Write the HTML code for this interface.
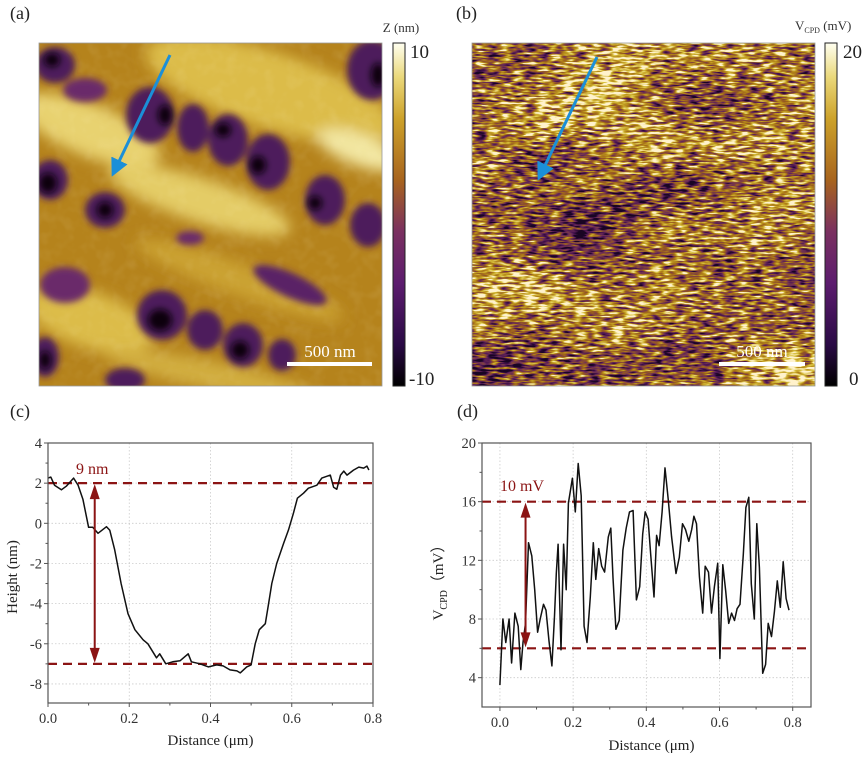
<!DOCTYPE html>
<html><head><meta charset="utf-8">
<style>
html,body{margin:0;padding:0;background:#fff;}
body{width:865px;height:766px;position:relative;overflow:hidden;font-family:"Liberation Serif",serif;}
svg{position:absolute;left:0;top:0;}
</style></head>
<body>
<svg width="865" height="766" xmlns="http://www.w3.org/2000/svg">
<defs>
  <linearGradient id="cmap" x1="0" y1="1" x2="0" y2="0">
    <stop offset="0" stop-color="#000000"/>
    <stop offset="0.12" stop-color="#2a0a45"/>
    <stop offset="0.3" stop-color="#5c1c6e"/>
    <stop offset="0.45" stop-color="#7a3060"/>
    <stop offset="0.6" stop-color="#a8641e"/>
    <stop offset="0.78" stop-color="#cda22a"/>
    <stop offset="0.9" stop-color="#ead87a"/>
    <stop offset="1" stop-color="#fffff0"/>
  </linearGradient>
  <filter id="blur6" x="-20%" y="-20%" width="140%" height="140%"><feGaussianBlur stdDeviation="7"/></filter>
  <filter id="blur3" x="-20%" y="-20%" width="140%" height="140%"><feGaussianBlur stdDeviation="3.5"/></filter>
  <filter id="kpfm" x="0" y="0" width="100%" height="100%" color-interpolation-filters="sRGB">
    <feTurbulence type="fractalNoise" baseFrequency="0.08 0.4" numOctaves="2" seed="3" result="t1"/>
    <feColorMatrix in="t1" type="matrix" values="1 0 0 0 0  1 0 0 0 0  1 0 0 0 0  0 0 0 0 1" result="n1"/>
    <feTurbulence type="fractalNoise" baseFrequency="0.006 0.012" numOctaves="2" seed="11" result="t2"/>
    <feColorMatrix in="t2" type="matrix" values="1 0 0 0 0  1 0 0 0 0  1 0 0 0 0  0 0 0 0 1" result="n2"/>
    <feComposite in="n1" in2="n2" operator="arithmetic" k2="1" k3="0.55" k4="-0.28" result="n"/>
    <feComponentTransfer in="n" result="s">
      <feFuncR type="linear" slope="2.0" intercept="-0.45"/>
      <feFuncG type="linear" slope="2.0" intercept="-0.45"/>
      <feFuncB type="linear" slope="2.0" intercept="-0.45"/>
      <feFuncA type="linear" slope="0" intercept="1"/>
    </feComponentTransfer>
    <feComponentTransfer in="s">
      <feFuncR type="table" tableValues="0.1 0.3 0.45 0.6 0.72 0.85 1"/>
      <feFuncG type="table" tableValues="0.02 0.08 0.2 0.36 0.55 0.76 0.95"/>
      <feFuncB type="table" tableValues="0.14 0.33 0.33 0.12 0.1 0.25 0.8"/>
      <feFuncA type="linear" slope="0" intercept="1"/>
    </feComponentTransfer>
  </filter>
  <filter id="grain" x="0" y="0" width="100%" height="100%">
    <feTurbulence type="fractalNoise" baseFrequency="0.08" numOctaves="2" seed="5" result="t"/>
    <feColorMatrix in="t" type="matrix" values="0 0 0 0 1  0 0 0 0 0.95  0 0 0 0 0.7  0.8 0 0 0 -0.35"/>
  </filter>
  <clipPath id="clipA"><rect x="39" y="43" width="343" height="343"/></clipPath>
  <marker id="blueHead" markerWidth="6" markerHeight="6" refX="5" refY="3" orient="auto" markerUnits="strokeWidth"><path d="M0,0 L6,3 L0,6 Z" fill="#1b8fd8"/></marker>
</defs>

<g>
  <g clip-path="url(#clipA)">
    <rect x="39" y="43" width="343" height="343" fill="#b5831c"/>
    <g filter="url(#blur6)" fill="#dcbc48">
      <ellipse cx="270" cy="90" rx="130" ry="38" transform="rotate(18 270 90)"/>
      <ellipse cx="360" cy="150" rx="45" ry="16" transform="rotate(20 360 150)" fill="#f2e6a0"/>
      <ellipse cx="90" cy="130" rx="75" ry="26" transform="rotate(22 90 130)" fill="#e8d270"/>
      <ellipse cx="200" cy="200" rx="95" ry="22" transform="rotate(18 200 200)" fill="#e4cc66"/>
      <ellipse cx="90" cy="320" rx="65" ry="28" transform="rotate(18 90 320)"/>
      <ellipse cx="240" cy="280" rx="110" ry="16" transform="rotate(20 240 280)" fill="#cba232"/>
      <ellipse cx="210" cy="375" rx="110" ry="14" transform="rotate(12 210 375)" fill="#d2ae40"/>
    </g>
    <rect x="39" y="43" width="343" height="343" filter="url(#grain)" opacity="0.25"/>
    <g filter="url(#blur3)" fill="#4d1a5c">
      <ellipse cx="55" cy="65" rx="20" ry="18"/>
      <ellipse cx="85" cy="90" rx="22" ry="12" fill="#6a2c6a"/>
      <ellipse cx="372" cy="70" rx="25" ry="30"/>
      <ellipse cx="150" cy="115" rx="24" ry="28"/>
      <ellipse cx="193" cy="128" rx="16" ry="24"/>
      <ellipse cx="228" cy="140" rx="20" ry="26"/>
      <ellipse cx="268" cy="162" rx="22" ry="28"/>
      <ellipse cx="325" cy="200" rx="20" ry="25"/>
      <ellipse cx="368" cy="225" rx="18" ry="22"/>
      <ellipse cx="50" cy="180" rx="18" ry="20"/>
      <ellipse cx="105" cy="210" rx="20" ry="18"/>
      <ellipse cx="190" cy="238" rx="14" ry="7" fill="#6a2c6a"/>
      <ellipse cx="290" cy="285" rx="40" ry="12" transform="rotate(25 290 285)" fill="#5a2266"/>
      <ellipse cx="65" cy="285" rx="25" ry="18" fill="#6a2c6a"/>
      <ellipse cx="162" cy="315" rx="25" ry="25"/>
      <ellipse cx="205" cy="330" rx="18" ry="20"/>
      <ellipse cx="243" cy="345" rx="20" ry="22"/>
      <ellipse cx="282" cy="355" rx="14" ry="16"/>
      <ellipse cx="45" cy="357" rx="14" ry="20"/>
      <ellipse cx="125" cy="380" rx="20" ry="12"/>
    </g>
    <g filter="url(#blur3)" fill="#0a0410">
      <ellipse cx="52" cy="60" rx="8" ry="7"/>
      <ellipse cx="378" cy="75" rx="7" ry="12"/>
      <ellipse cx="165" cy="115" rx="7" ry="10"/>
      <ellipse cx="223" cy="130" rx="8" ry="7"/>
      <ellipse cx="258" cy="165" rx="8" ry="9"/>
      <ellipse cx="315" cy="203" rx="7" ry="7"/>
      <ellipse cx="48" cy="183" rx="9" ry="10"/>
      <ellipse cx="105" cy="210" rx="8" ry="8"/>
      <ellipse cx="160" cy="320" rx="12" ry="11"/>
      <ellipse cx="240" cy="350" rx="9" ry="9"/>
      <ellipse cx="45" cy="360" rx="6" ry="9"/>
    </g>
  </g>
  <rect x="39" y="43" width="343" height="343" fill="none" stroke="#999" stroke-width="0.8"/>
  <line x1="170" y1="55" x2="113" y2="174" stroke="#1b8fd8" stroke-width="3" marker-end="url(#blueHead)"/>
  <line x1="287" y1="364" x2="372" y2="364" stroke="#fff" stroke-width="4"/>
  <text x="330" y="357" font-size="17" fill="#fff" text-anchor="middle">500 nm</text>
  <rect x="393" y="43" width="12" height="343" fill="url(#cmap)" stroke="#222" stroke-width="1"/>
  <text x="401" y="32" font-size="13" fill="#333" text-anchor="middle">Z (nm)</text>
  <text x="410" y="58" font-size="19" fill="#222">10</text>
  <text x="409" y="385" font-size="19" fill="#222">-10</text>
  <text x="10" y="19" font-size="18" fill="#222">(a)</text>
</g>

<g>
  <rect x="472" y="43" width="343" height="343" fill="#a06a1e" filter="url(#kpfm)"/>
  <rect x="472" y="43" width="343" height="343" fill="none" stroke="#999" stroke-width="0.8"/>
  <line x1="597" y1="57" x2="539" y2="178" stroke="#1b8fd8" stroke-width="3" marker-end="url(#blueHead)"/>
  <line x1="719" y1="364" x2="805" y2="364" stroke="#fff" stroke-width="4"/>
  <text x="762" y="357" font-size="17" fill="#fff" text-anchor="middle">500 nm</text>
  <rect x="825" y="43" width="12" height="343" fill="url(#cmap)" stroke="#222" stroke-width="1"/>
  <text x="795" y="30" font-size="13" fill="#333">V<tspan font-size="8" dy="3">CPD</tspan><tspan dy="-3"> (mV)</tspan></text>
  <text x="843" y="58" font-size="19" fill="#222">20</text>
  <text x="849" y="385" font-size="19" fill="#222">0</text>
  <text x="456" y="19" font-size="18" fill="#222">(b)</text>
</g>

<text x="10" y="417" font-size="18" fill="#222">(c)</text>
<text x="457" y="417" font-size="18" fill="#222">(d)</text>
<g id="chartC"></g>
<g id="chartD"></g>
</svg>

<script>
// ---- Chart (c) data ----
const cDist = [0,0.007,0.016,0.033,0.045,0.063,0.074,0.086,0.10,0.11,0.123,0.144,0.152,0.164,0.18,0.197,0.214,0.234,0.246,0.267,0.275,0.29,0.307,0.325,0.345,0.353,0.374,0.395,0.415,0.431,0.448,0.465,0.473,0.489,0.50,0.51,0.52,0.535,0.543,0.551,0.563,0.58,0.592,0.604,0.614,0.629,0.641,0.662,0.674,0.695,0.703,0.711,0.72,0.728,0.736,0.752,0.765,0.777,0.785,0.79];
const cHeight = [2.25,2.3,1.9,1.67,1.85,2.25,1.9,1.2,-0.2,-0.2,-0.5,-0.17,-0.35,-1.3,-3,-4.5,-5.3,-5.8,-6.0,-6.7,-6.5,-7,-6.9,-6.85,-6.5,-6.9,-7,-7.15,-7.05,-7.1,-7.3,-7.35,-7.45,-7.15,-7.05,-6,-5.3,-5,-4,-3,-2,-1,-0.33,0.5,1.25,1.5,1.75,1.9,2.25,2.4,1.8,1.7,2.4,2.6,2.4,2.65,2.8,2.75,2.85,2.65];
const cXTicks = [0,0.2,0.4,0.6,0.8];
const cXTickLabels = ["0.0","0.2","0.4","0.6","0.8"];
const cYTicks = [-8,-6,-4,-2,0,2,4];
const cYTickLabels = ["-8","-6","-4","-2","0","2","4"];
const cRefLines = [2,-7];
const cArrowX = [0.115];
const cAnnot = ["9 nm"];

// ---- Chart (d) data ----
const dDist = [0,0.008,0.016,0.025,0.032,0.041,0.050,0.057,0.063,0.070,0.078,0.087,0.095,0.103,0.110,0.119,0.126,0.134,0.142,0.149,0.154,0.159,0.167,0.174,0.181,0.187,0.198,0.206,0.214,0.222,0.230,0.238,0.247,0.255,0.262,0.270,0.278,0.286,0.296,0.303,0.309,0.317,0.326,0.336,0.345,0.354,0.364,0.373,0.382,0.390,0.397,0.405,0.412,0.421,0.428,0.435,0.443,0.451,0.460,0.469,0.481,0.490,0.499,0.507,0.516,0.524,0.530,0.537,0.545,0.554,0.561,0.570,0.578,0.586,0.595,0.601,0.609,0.617,0.625,0.633,0.641,0.648,0.656,0.665,0.672,0.680,0.687,0.695,0.702,0.709,0.718,0.726,0.733,0.742,0.750,0.758,0.766,0.774,0.782,0.790];
const dVcpd = [3.5,8.0,6.4,8.0,5.0,8.4,7.5,4.55,6.4,7.7,13.2,12.3,10.0,7.1,8.0,9.0,8.6,6.5,4.8,8.2,11.1,13.1,5.9,13.1,10.0,15.9,17.6,15.3,18.6,16.4,7.5,6.4,9.5,13.2,10.7,12.8,11.6,11.2,13.6,14.2,10.8,7.3,7.9,12.7,14.2,15.3,15.4,9.3,10.2,13.8,15.3,14.8,12.4,9.5,13.7,13.0,15.3,18.3,16.1,13.6,11.1,12.2,14.5,14.1,13.3,14.1,15.0,14.5,10.9,8.4,11.6,11.2,8.4,10.2,11.8,5.3,11.7,9.9,7.7,8.4,7.9,8.7,9.0,12.4,15.6,16.3,10.4,8.0,14.5,11.5,4.3,4.9,7.7,6.8,8.5,10.6,8.8,11.9,9.4,8.6];
const dXTicks = [0,0.2,0.4,0.6,0.8];
const dXTickLabels = ["0.0","0.2","0.4","0.6","0.8"];
const dYTicks = [4,8,12,16,20];
const dYTickLabels = ["4","8","12","16","20"];
const dRefLines = [16,6];
const dArrowX = [0.07];
const dAnnot = ["10 mV"];

const NS = "http://www.w3.org/2000/svg";
function mk(parent, tag, attrs, text){
  const e = document.createElementNS(NS, tag);
  for (const k in attrs) e.setAttribute(k, attrs[k]);
  if (text !== undefined) e.textContent = text;
  parent.appendChild(e);
  return e;
}

function drawChart(g, cfg){
  const L=cfg.left, R=cfg.right, T=cfg.top, B=cfg.bottom;
  const sx = v => L + (v - cfg.xmin)/(cfg.xmax - cfg.xmin)*(R-L);
  const sy = v => B - (v - cfg.ymin)/(cfg.ymax - cfg.ymin)*(B-T);
  const red = "#8b1414";
  cfg.xTicks.forEach(v=>{
    const l = mk(g,'line',{x1:sx(v),x2:sx(v),y1:T,y2:B,stroke:'#ccc','stroke-width':0.8,'stroke-dasharray':'1.5 2'});
    
    
  });
  cfg.yTicks.forEach(v=>{
    const l = mk(g,'line',{x1:L,x2:R,y1:sy(v),y2:sy(v),stroke:'#ccc','stroke-width':0.8,'stroke-dasharray':'1.5 2'});
    
    
  });
  cfg.refLines.forEach(v=>{
    const l = mk(g,'line',{x1:L,x2:R,y1:sy(v),y2:sy(v),stroke:red,'stroke-width':2.2,'stroke-dasharray':'9 6'});
    
    
  });
  let d='';
  cfg.xs.forEach((x,i)=>{ d += (i?'L':'M') + sx(x).toFixed(1)+','+sy(cfg.ys[i]).toFixed(1); });
  const p = mk(g,'path',{d:d,fill:'none',stroke:'#111','stroke-width':1.5,'stroke-linejoin':'round'});
  
  
  const ax = sx(cfg.arrowX[0]), y1 = sy(cfg.refLines[0]), y2 = sy(cfg.refLines[1]);
  const ag = mk(g,'g',{});
  
  
  mk(ag,'line',{x1:ax,x2:ax,y1:y1+12,y2:y2-12,stroke:red,'stroke-width':2});
  mk(ag,'path',{d:`M${ax},${y1+1} L${ax-5},${y1+16} L${ax+5},${y1+16} Z`,fill:red});
  mk(ag,'path',{d:`M${ax},${y2-1} L${ax-5},${y2-16} L${ax+5},${y2-16} Z`,fill:red});
  const at = mk(g,'text',{x:cfg.annotX,y:cfg.annotY,'font-size':16,fill:red,'font-family':'Liberation Serif, serif'},cfg.annot[0]);
  
  
  const fr = mk(g,'rect',{x:L,y:T,width:R-L,height:B-T,fill:'none',stroke:'#555','stroke-width':1.2});
  
  
  cfg.xTicks.forEach((v,i)=>{
    mk(g,'line',{x1:sx(v),x2:sx(v),y1:B,y2:B+4,stroke:'#555','stroke-width':1});
    if(i<cfg.xTicks.length-1){ const m=(v+cfg.xTicks[i+1])/2; mk(g,'line',{x1:sx(m),x2:sx(m),y1:B,y2:B+2.5,stroke:'#555','stroke-width':1}); }
    const t = mk(g,'text',{x:sx(v),y:B+20,'font-size':14.5,fill:'#333','text-anchor':'middle','font-family':'Liberation Serif, serif'},cfg.xTickLabels[i]);
    
    
  });
  cfg.yTicks.forEach((v,i)=>{
    mk(g,'line',{x1:L-4,x2:L,y1:sy(v),y2:sy(v),stroke:'#555','stroke-width':1});
    const m = v + (cfg.yTicks[1]-cfg.yTicks[0])/2;
    if (m < cfg.ymax) mk(g,'line',{x1:L-2.5,x2:L,y1:sy(m),y2:sy(m),stroke:'#555','stroke-width':1});
    const mm = v - (cfg.yTicks[1]-cfg.yTicks[0])/2;
    if (i===0 && mm > cfg.ymin) mk(g,'line',{x1:L-2.5,x2:L,y1:sy(mm),y2:sy(mm),stroke:'#555','stroke-width':1});
    const t = mk(g,'text',{x:L-6,y:sy(v)+5,'font-size':14.5,fill:'#333','text-anchor':'end','font-family':'Liberation Serif, serif'},cfg.yTickLabels[i]);
    
    
  });
  const xt = mk(g,'text',{x:(L+R)/2+cfg.xTitleDx,y:cfg.xTitleY,'font-size':15,fill:'#222','text-anchor':'middle','font-family':'Liberation Serif, serif'},'Distance (μm)');
  
  
  const yt = mk(g,'text',{x:0,y:0,'font-size':15,fill:'#222','text-anchor':'middle','font-family':'Liberation Serif, "Noto Sans CJK SC", serif',transform:`translate(${cfg.yTitleX},${(T+B)/2+cfg.yTitleDy}) rotate(-90)`});
  
  
  cfg.yTitle(yt);
}

drawChart(document.getElementById('chartC'),{
  left:48,right:373,top:443,bottom:703,xmin:0,xmax:0.8,ymin:-8.95,ymax:4,
  xs:cDist,ys:cHeight,xTicks:cXTicks,xTickLabels:cXTickLabels,yTicks:cYTicks,yTickLabels:cYTickLabels,
  refLines:cRefLines,arrowX:cArrowX,annot:cAnnot,annotX:76,annotY:474,
  xTitleDx:0,xTitleY:745,yTitleX:17,yTitleDy:4,
  yTitle:t=>{t.textContent='Height (nm)';}
});
drawChart(document.getElementById('chartD'),{
  left:482,right:811,top:443,bottom:707,xmin:-0.049,xmax:0.85,ymin:2.0,ymax:20,
  xs:dDist,ys:dVcpd,xTicks:dXTicks,xTickLabels:dXTickLabels,yTicks:dYTicks,yTickLabels:dYTickLabels,
  refLines:dRefLines,arrowX:dArrowX,annot:dAnnot,annotX:500,annotY:491,
  xTitleDx:5,xTitleY:750,yTitleX:443,yTitleDy:4,
  yTitle:t=>{
    const a=document.createElementNS(NS,'tspan'); a.textContent='V'; t.appendChild(a);
    const b=document.createElementNS(NS,'tspan'); b.setAttribute('font-size','10'); b.setAttribute('dy','4'); b.textContent='CPD'; t.appendChild(b);
    const c=document.createElementNS(NS,'tspan'); c.setAttribute('dy','-4'); c.textContent='（mV）'; t.appendChild(c);
  }
});
</script>
</body></html>
